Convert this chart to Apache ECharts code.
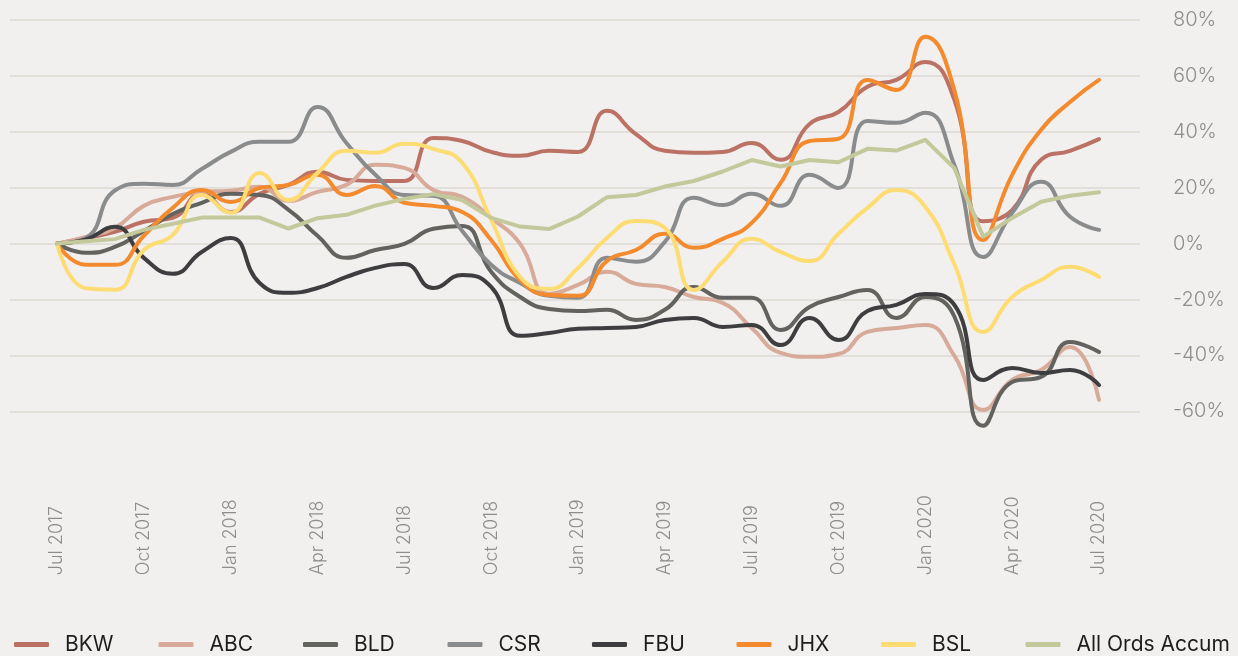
<!DOCTYPE html>
<html>
<head>
<meta charset="utf-8">
<title>Building materials share price performance</title>
<script src="https://cdn.jsdelivr.net/npm/echarts@6/dist/echarts.min.js"></script>
<style>
  html, body { margin: 0; padding: 0; background: #f1f0ee; }
  #chart { width: 1238px; height: 656px; }
</style>
</head>
<body>
<div id="chart"></div>
<script>
// monthly x categories, a label shown every 3rd month
const months = [
  'Jul 2017', 'Aug 2017', 'Sep 2017', 'Oct 2017', 'Nov 2017', 'Dec 2017',
  'Jan 2018', 'Feb 2018', 'Mar 2018', 'Apr 2018', 'May 2018', 'Jun 2018',
  'Jul 2018', 'Aug 2018', 'Sep 2018', 'Oct 2018', 'Nov 2018', 'Dec 2018',
  'Jan 2019', 'Feb 2019', 'Mar 2019', 'Apr 2019', 'May 2019', 'Jun 2019',
  'Jul 2019', 'Aug 2019', 'Sep 2019', 'Oct 2019', 'Nov 2019', 'Dec 2019',
  'Jan 2020', 'Feb 2020', 'Mar 2020', 'Apr 2020', 'May 2020', 'Jun 2020',
  'Jul 2020'
];

// cumulative return, %
const bkw = [0, 2.0, 4.2, 7.8, 9.2, 17.8, 11.3, 17.8, 21.0, 25.7, 22.8, 22.4, 22.4, 37.8, 36.7, 32.8, 31.4, 33.2, 32.8, 47.5, 39.2, 33.2, 32.5, 32.8, 36.0, 30.0, 42.8, 47.1, 56.1, 58.6, 65.0, 51.5, 8.0, 12.0, 30.0, 33.2, 37.4];
const abc = [0, 2.4, 5.6, 13.5, 16.7, 18.5, 18.9, 20.3, 15.3, 18.5, 21.0, 28.2, 27.1, 19.2, 16.7, 9.2, -0.1, -18.0, -14.8, -10.1, -14.4, -15.5, -19.1, -21.2, -30.2, -39.1, -40.5, -39.5, -31.6, -30.2, -29.1, -40.1, -59.5, -48.8, -45.2, -37.0, -55.9];
const bld = [0, -3.3, -1.2, 4.5, 10.6, 14.6, 17.8, 17.4, 12.1, 2.8, -5.1, -2.3, -0.1, 5.3, 6.3, -10.1, -19.1, -23.4, -24.1, -23.7, -27.3, -23.7, -15.5, -19.4, -19.4, -30.9, -22.7, -19.1, -16.6, -26.6, -19.1, -26.0, -65.2, -49.5, -47.7, -35.2, -38.8];
const csr = [0, 2.0, 19.0, 21.4, 21.0, 26.7, 32.8, 36.4, 36.4, 48.9, 36.0, 24.6, 17.4, 17.1, 4.5, -7.6, -14.1, -18.7, -19.4, -5.1, -6.5, 0.6, 16.4, 13.8, 17.8, 13.5, 24.6, 19.9, 43.9, 43.2, 46.8, 28.2, -4.8, 11.0, 22.1, 9.6, 4.9];
const fbu = [0, 1.5, 6.0, -5.1, -10.8, -3.0, 2.0, -14.1, -17.6, -15.9, -11.9, -8.7, -7.3, -15.9, -11.2, -15.5, -33.0, -32.0, -30.5, -30.2, -29.8, -27.3, -26.6, -29.8, -29.1, -36.3, -26.6, -34.5, -24.1, -21.9, -18.0, -21.9, -48.8, -44.5, -46.3, -45.2, -50.6];
const jhx = [0, -7.6, -7.6, 2.8, 12.8, 19.2, 14.9, 19.9, 21.0, 24.6, 17.4, 20.6, 14.6, 13.5, 11.3, 1.3, -13.0, -18.4, -18.7, -6.2, -2.3, 3.5, -1.5, 1.7, 7.4, 21.7, 36.7, 37.5, 58.5, 55.0, 74.0, 55.0, 1.3, 24.6, 40.7, 50.7, 58.6];
const bsl = [0, -16.0, -16.5, -2.3, 3.1, 17.4, 11.0, 25.3, 15.6, 25.3, 33.2, 32.5, 35.7, 33.9, 28.9, 8.5, -11.9, -16.2, -8.7, 2.0, 8.1, 5.6, -16.6, -6.5, 1.7, -3.0, -6.2, 3.5, 12.8, 19.2, 13.1, -7.3, -31.6, -19.1, -13.0, -8.3, -11.9];
const allOrds = [0, 0.8, 1.6, 4.9, 7.1, 9.3, 9.3, 9.3, 5.4, 9.1, 10.3, 13.6, 16.0, 17.7, 15.6, 9.2, 6.1, 5.2, 9.7, 16.6, 17.4, 20.4, 22.4, 25.8, 29.9, 27.6, 29.9, 29.1, 33.9, 33.3, 37.1, 27.0, 2.5, 9.2, 15.0, 17.1, 18.4];

const names = ['BKW', 'ABC', 'BLD', 'CSR', 'FBU', 'JHX', 'BSL', 'All Ords Accum'];
const values = [bkw, abc, bld, csr, fbu, jhx, bsl, allOrds];
const colors = ['#bb7264', '#d8aa9a', '#62635e', '#8a8b8d', '#3e3e40', '#f38b2e', '#fedc74', '#c3c99a'];

const labelColor = '#8d8d8d';
const font = 'Inter, "Noto Sans", sans-serif';

const chart = echarts.init(document.getElementById('chart'));

const series = names.map((name, i) => {
  const obj = {
    name: name,
    type: 'line',
    xAxisIndex: 1,
    yAxisIndex: 1,
    smooth: name !== 'All Ords Accum',
    symbol: 'none',
    color: colors[i],
    lineStyle: {
      width: 4,
      color: colors[i],
      cap: 'round',
      join: 'round'
    },
    emphasis: { disabled: true },
    data: values[i]
  };
  return obj;
});

// one legend per item so the entries sit on an even pitch
const legends = names.map((name, i) => {
  const obj = {
    left: 9 + 144.5 * i,
    top: 629,
    icon: 'roundRect',
    itemWidth: 35,
    itemHeight: 5,
    selectedMode: false,
    textStyle: {
      fontSize: 21,
      color: '#1d1d1d',
      fontFamily: font,
      padding: [0, 0, 0, 11]
    },
    data: [name]
  };
  return obj;
});

const option = {
  backgroundColor: '#f1f0ee',
  animation: false,
  textStyle: { fontFamily: font },
  // grid 0 only carries the wide gridlines and the % labels (-60..80),
  // grid 1 holds the lines themselves, with room below -60 so nothing is clipped
  grid: [
    { left: 10, right: 98, top: 20, bottom: 244.7, outerBoundsMode: 'none' },
    { left: 57, right: 139, top: 20, bottom: 188.8, outerBoundsMode: 'none' }
  ],
  xAxis: [
    { gridIndex: 0, type: 'value', min: 0, max: 1, show: false },
    {
      gridIndex: 1,
      type: 'category',
      boundaryGap: false,
      data: months,
      axisLine: { show: false },
      axisTick: { show: false },
      splitLine: { show: false },
      axisLabel: {
        interval: 2,
        rotate: 90,
        align: 'left',
        verticalAlign: 'middle',
        margin: 108,
        fontSize: 18,
        fontWeight: 300,
        color: labelColor,
        fontFamily: font
      }
    }
  ],
  yAxis: [
    {
      gridIndex: 0,
      type: 'value',
      position: 'right',
      min: -60,
      max: 80,
      interval: 20,
      axisLine: { show: false },
      axisTick: { show: false },
      axisLabel: {
        formatter: '{value}%',
        align: 'left',
        margin: 33,
        fontSize: 20,
        fontWeight: 300,
        color: labelColor,
        fontFamily: font
      },
      splitLine: {
        lineStyle: { color: '#dcdad3', width: 1.5 }
      }
    },
    { gridIndex: 1, type: 'value', min: -80, max: 80, show: false }
  ],
  legend: legends,
  series: series
};

chart.setOption(option);
</script>
</body>
</html>
